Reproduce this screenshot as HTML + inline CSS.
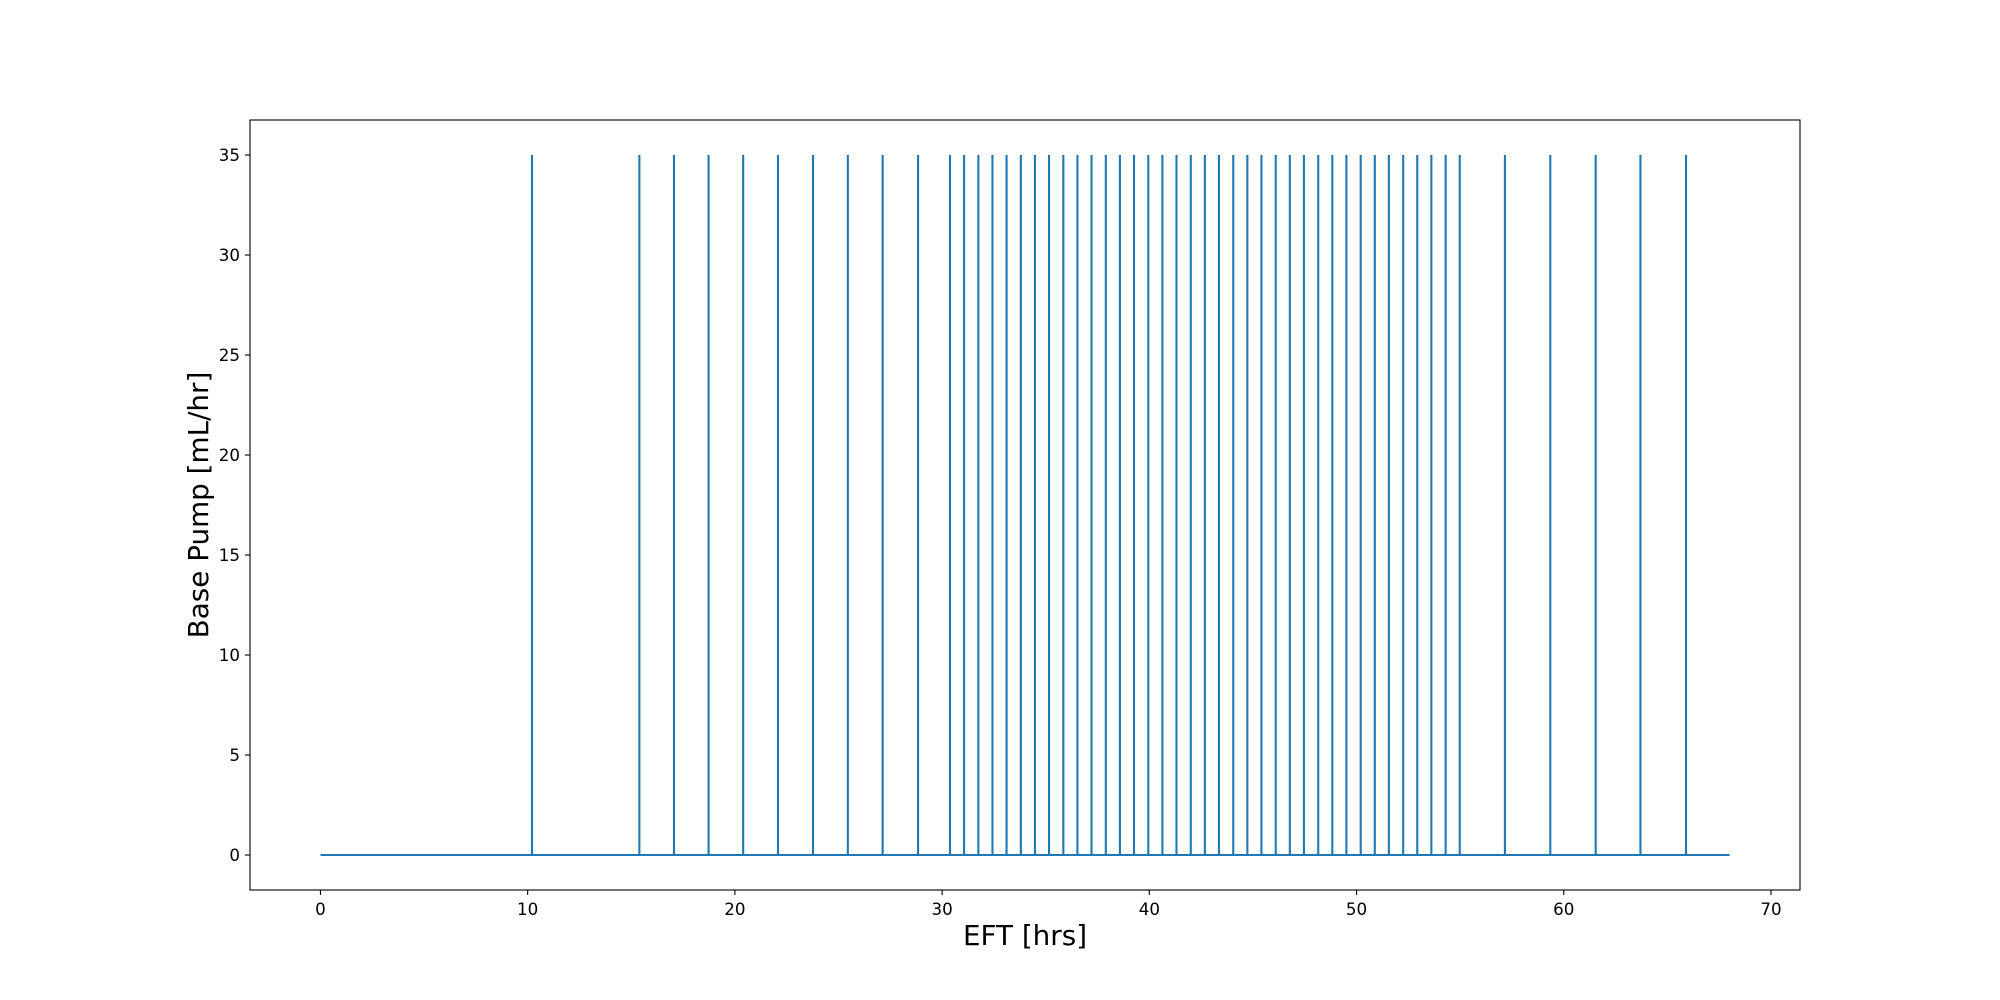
<!DOCTYPE html>
<html><head><meta charset="utf-8"><style>
html,body{margin:0;padding:0;background:#fff;}
svg{display:block;font-family:"DejaVu Sans","Liberation Sans",sans-serif;}
</style></head><body>
<svg id="chart" width="2000" height="1000" viewBox="0 0 2000 1000">
<rect x="0" y="0" width="2000" height="1000" fill="#fff"/>
<g id="plot"></g>
<g id="axes"></g>
<text x="1025" y="945" font-size="27.8" text-anchor="middle">EFT [hrs]</text>
<text transform="translate(208,505) rotate(-90)" font-size="27.8" text-anchor="middle">Base Pump [mL/hr]</text>
</svg>
<script>
const spikeTimes = [10.21,15.39,17.06,18.73,20.40,22.08,23.77,25.45,27.13,28.84,
30.38,31.06,31.75,32.43,33.11,33.80,34.48,35.16,35.85,36.53,37.21,37.90,38.58,39.26,39.95,40.63,41.31,42.00,42.68,43.36,44.05,44.73,45.41,46.10,46.78,47.46,48.15,48.83,49.51,50.20,50.88,51.56,52.25,52.93,53.61,54.30,54.98,
57.16,59.35,61.54,63.70,65.90];
const spikeValue = 35;
const baseValue = 0;
const timeStart = 0;
const timeEnd = 68;
const xTicks = [0,10,20,30,40,50,60,70];
const yTicks = [0,5,10,15,20,25,30,35];

const L=250,R=1800,T=120,B=890;
const xMin=-3.4,xMax=71.4,yMin=-1.75,yMax=36.75;
const sx=v=>L+(v-xMin)/(xMax-xMin)*(R-L);
const sy=v=>B-(v-yMin)/(yMax-yMin)*(B-T);
const NS="http://www.w3.org/2000/svg";
const plot=document.getElementById('plot'), axes=document.getElementById('axes');
function mk(tag,attrs,parent){const e=document.createElementNS(NS,tag);for(const k in attrs)e.setAttribute(k,attrs[k]);parent.appendChild(e);return e;}

const base=mk('line',{x1:sx(timeStart),x2:sx(timeEnd),y1:sy(baseValue),y2:sy(baseValue),stroke:'#1f77b4','stroke-width':2.1},plot);


spikeTimes.forEach((t,i)=>{
  const l=mk('line',{x1:sx(t),x2:sx(t),y1:sy(baseValue),y2:sy(spikeValue),stroke:'#1f77b4','stroke-width':2.1},plot);
  
  
});

const frame=mk('rect',{x:L,y:T,width:R-L,height:B-T,fill:'none',stroke:'#000','stroke-width':1.1},axes);


xTicks.forEach(v=>{
  const x=sx(v);
  const tk=mk('line',{x1:x,x2:x,y1:B,y2:B+5,stroke:'#000','stroke-width':1.1},axes);
  
  
  const tx=mk('text',{x:x,y:B+25,'font-size':16.7,'text-anchor':'middle'},axes);
  tx.textContent=v;
  
  
});
yTicks.forEach(v=>{
  const y=sy(v);
  const tk=mk('line',{x1:L-5,x2:L,y1:y,y2:y,stroke:'#000','stroke-width':1.1},axes);
  
  
  const tx=mk('text',{x:L-10,y:y+6,'font-size':16.7,'text-anchor':'end'},axes);
  tx.textContent=v;
  
  
});
</script>
</body></html>
